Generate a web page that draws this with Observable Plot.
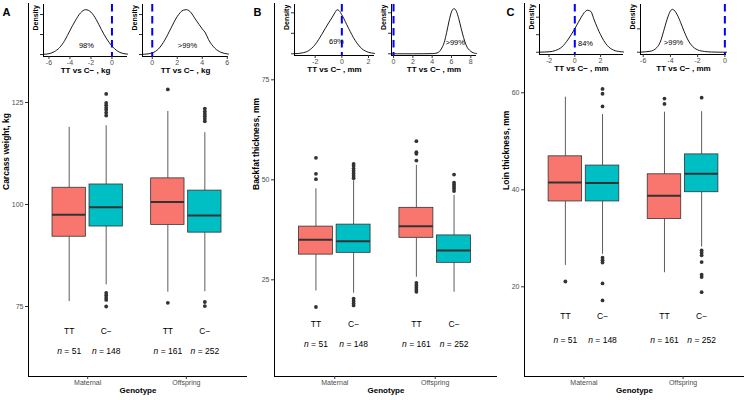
<!DOCTYPE html>
<html><head><meta charset="utf-8">
<script src="https://cdn.jsdelivr.net/npm/d3@7"></script>
<script src="https://cdn.jsdelivr.net/npm/@observablehq/plot@0.6"></script>
<style>
body{margin:0;background:#fff;}
#fig{position:relative;width:746px;height:400px;overflow:hidden;font-family:"Liberation Sans",Arial,sans-serif;}
#fig svg{position:absolute;top:0;background:transparent;overflow:visible;}
#fig svg g[aria-label="x-axis tick label"], #fig svg g[aria-label="y-axis tick label"]{fill:#4D4D4D;}
#fig svg g[aria-label="x-axis tick"], #fig svg g[aria-label="y-axis tick"]{stroke:#333;}
</style></head>
<body><div id="fig"></div>
<script>
// ---------- data ----------
const groups = ["Maternal", "Offspring"];
const genotypes = ["TT", "C\u2212"];
const sampleSizes = [51, 148, 161, 252]; // Maternal TT, Maternal C−, Offspring TT, Offspring C−

// Carcass weight (kg): order Maternal TT, Maternal C−, Offspring TT, Offspring C−
const carcassQ1 = [92.1, 94.6, 95.0, 93.1];
const carcassMedian = [97.5, 99.3, 100.6, 97.3];
const carcassQ3 = [104.1, 104.9, 106.4, 103.4];
const carcassWhiskerLow = [76.2, 80.3, 78.5, 78.6];
const carcassWhiskerHigh = [118.9, 119.3, 122.8, 117.6];
const carcassOutliers = [[], [127.1, 124.9, 124.3, 123.7, 123.2, 122.5, 121.8, 78.3, 77.7, 77.1, 76.6, 75.0], [128.2, 75.9], [123.5, 122.8, 122.2, 121.6, 121.0, 120.4, 76.1, 75.1]];
const carcassTicks = [75, 100, 125];

// Backfat thickness (mm)
const backfatQ1 = [31.3, 31.75, 35.5, 29.25];
const backfatMedian = [35.0, 34.65, 38.4, 32.3];
const backfatQ3 = [38.3, 38.8, 43.0, 36.1];
const backfatWhiskerLow = [22.2, 21.65, 25.65, 21.9];
const backfatWhiskerHigh = [47.75, 49.8, 53.6, 46.1];
const backfatOutliers = [[55.5, 51.5, 50.15, 18.2], [54.0, 53.5, 52.8, 52.2, 51.6, 51.0, 50.4, 20.3, 19.7, 19.1, 18.6], [59.65, 56.9, 56.5, 54.8, 24.2, 23.6, 23.0, 22.5, 22.0], [51.3, 49.3, 48.8, 48.3, 47.8, 47.2]];
const backfatTicks = [25, 50, 75];

// Loin thickness (mm)
const loinQ1 = [37.6, 37.6, 34.0, 39.5];
const loinMedian = [41.5, 41.4, 38.8, 43.3];
const loinQ3 = [46.9, 45.0, 43.2, 47.3];
const loinWhiskerLow = [24.4, 26.7, 22.9, 28.2];
const loinWhiskerHigh = [59.1, 55.5, 56.0, 56.1];
const loinOutliers = [[21.1], [60.8, 59.8, 57.2, 26.0, 25.5, 25.0, 20.7, 17.2], [58.8, 57.7], [59.0, 27.5, 27.0, 26.5, 25.1, 22.5, 22.0, 18.9]];
const loinTicks = [20, 40, 60];

// Posterior densities of TT − C− differences (maternal, offspring)
const carcassMatDiffX = [-6.52, -6, -5.5, -5, -4.5, -4, -3.5, -3, -2.5, -2, -1.5, -1, -0.5, 0, 0.5, 1, 1.48];
const carcassMatDiffDensity = [0.001, 0.004, 0.014, 0.034, 0.07, 0.12, 0.168, 0.208, 0.224, 0.212, 0.175, 0.124, 0.078, 0.042, 0.018, 0.006, 0.002];
const carcassOffDiffX = [-0.78, -0.5, 0, 0.5, 1, 1.5, 2, 2.5, 2.75, 3, 3.5, 4, 4.25, 4.5, 5, 5.5, 6, 6.1];
const carcassOffDiffDensity = [0.001, 0.002, 0.008, 0.028, 0.072, 0.132, 0.19, 0.222, 0.224, 0.216, 0.172, 0.128, 0.108, 0.075, 0.032, 0.011, 0.003, 0.002];
const backfatMatDiffX = [-3.55, -3, -2.5, -2, -1.5, -1, -0.75, -0.5, -0.35, -0.2, 0, 0.5, 1, 1.5, 2, 2.45];
const backfatMatDiffDensity = [0.001, 0.008, 0.03, 0.09, 0.19, 0.3, 0.35, 0.405, 0.43, 0.42, 0.38, 0.25, 0.13, 0.05, 0.015, 0.004];
const backfatOffDiffX = [-0.21, 1, 2, 3, 4, 4.5, 5, 5.25, 5.5, 5.75, 6, 6.25, 6.5, 6.75, 7, 7.25, 7.5, 8, 8.5, 8.59];
const backfatOffDiffDensity = [0, 0, 0, 0.0005, 0.002, 0.01, 0.07, 0.14, 0.26, 0.4, 0.51, 0.55, 0.52, 0.43, 0.31, 0.2, 0.11, 0.03, 0.005, 0.003];
const loinMatDiffX = [-2.74, -2, -1.5, -1, -0.5, 0, 0.25, 0.5, 0.75, 1, 1.25, 1.5, 1.75, 2, 2.5, 3, 3.5, 3.78];
const loinMatDiffDensity = [0.001, 0.005, 0.02, 0.06, 0.15, 0.27, 0.335, 0.4, 0.455, 0.48, 0.465, 0.37, 0.28, 0.2, 0.08, 0.025, 0.007, 0.003];
const loinOffDiffX = [-6.2, -5.5, -5, -4.75, -4.5, -4.25, -4, -3.85, -3.5, -3.25, -3, -2.75, -2.5, -2, -1.5, -1, -0.5, 0.12];
const loinOffDiffDensity = [0.002, 0.012, 0.06, 0.13, 0.27, 0.42, 0.53, 0.55, 0.48, 0.38, 0.27, 0.17, 0.1, 0.03, 0.01, 0.003, 0.001, 0];

const probLabels = {carcass: ["98%", ">99%"], backfat: ["69%", ">99%"], loin: ["84%", ">99%"]};

// ---------- drawing ----------
const FONT = '"Liberation Sans", Arial, Helvetica, sans-serif';
const fig = document.getElementById("fig");
const DODGE = 0.1875, HALF = 0.169;
const FILLS = ["#F8766D", "#00BFC4"];
const plain = d => String(d);

function place(svg, left) {
  svg.style.position = "absolute";
  svg.style.left = left + "px";
  svg.style.top = "0px";
  svg.style.background = "transparent";
  svg.style.overflow = "visible";
  fig.appendChild(svg);
}

function italicN(svg) {
  svg.querySelectorAll("text").forEach(t => {
    const s = t.textContent;
    if (s.startsWith("n = ")) {
      t.textContent = "";
      const ts = document.createElementNS("http://www.w3.org/2000/svg", "tspan");
      ts.setAttribute("font-style", "italic");
      ts.textContent = "n";
      t.appendChild(ts);
      t.appendChild(document.createTextNode(s.slice(1)));
    }
  });
}

function mainPlot(s) {
  const rows = [];
  groups.forEach((g, gi) => genotypes.forEach((t, ti) => {
    const k = gi * 2 + ti;
    rows.push({group: g, geno: t, xc: gi + 1 + (ti ? DODGE : -DODGE),
      q1: s.q1[k], med: s.med[k], q3: s.q3[k], lo: s.lo[k], hi: s.hi[k], n: sampleSizes[k], out: s.out[k]});
  }));
  const outl = rows.flatMap(r => r.out.map(v => ({xc: r.xc, v})));
  const svg = Plot.plot({
    width: s.w, height: 400, marginLeft: s.ml, marginRight: s.mr, marginTop: 3, marginBottom: 24,
    style: {fontFamily: FONT, fontSize: "7px", background: "transparent", overflow: "visible"},
    x: {type: "linear", domain: [0.4, 2.62]},
    y: {domain: s.yDomain},
    color: {domain: genotypes, range: FILLS},
    marks: [
      Plot.ruleX(rows, {x: "xc", y1: "lo", y2: "q1", stroke: "#333", strokeWidth: 0.8}),
      Plot.ruleX(rows, {x: "xc", y1: "q3", y2: "hi", stroke: "#333", strokeWidth: 0.8}),
      Plot.rect(rows, {x1: d => d.xc - HALF, x2: d => d.xc + HALF, y1: "q1", y2: "q3", fill: "geno", stroke: "#333", strokeWidth: 0.8}),
      Plot.ruleY(rows, {y: "med", x1: d => d.xc - HALF, x2: d => d.xc + HALF, stroke: "#333", strokeWidth: 2}),
      Plot.dot(outl, {x: "xc", y: "v", r: 1.9, fill: "#333", stroke: null}),
      Plot.text(rows, {x: "xc", y: () => s.labelY, text: "geno", fontSize: 8.5, fill: "black"}),
      Plot.text(rows, {x: "xc", y: () => s.nY, text: d => "n = " + d.n, fontSize: 8.5, fill: "black"}),
      Plot.ruleX([0.4], {stroke: "black", strokeWidth: 1}),
      Plot.ruleY([s.yDomain[0]], {stroke: "black", strokeWidth: 1}),
      Plot.axisY({ticks: s.yTicks, tickFormat: plain, tickSize: 3, tickPadding: 2, label: null, fontSize: 7}),
      Plot.axisX({ticks: [1, 2], tickFormat: d => groups[d - 1], tickSize: 3, tickPadding: 1, label: null, fontSize: 7}),
      Plot.text([s.yTitle], {frameAnchor: "left", rotate: -90, dx: s.yTitleDx, fontWeight: "bold", fontSize: 8.5, fill: "black"}),
      Plot.text(["Genotype"], {frameAnchor: "bottom", dy: 16, fontWeight: "bold", fontSize: 8, fill: "black"}),
      Plot.text([s.letter], {frameAnchor: "top-left", dx: s.letterDx, dy: 5, textAnchor: "start", fontWeight: "bold", fontSize: 11, fill: "black"})
    ]
  });
  italicN(svg);
  place(svg, s.left);
}

function insetPlot(d) {
  const pts = d.x.map((x, i) => ({x, y: d.y[i]}));
  const H = 80;
  const svg = Plot.plot({
    width: d.fx1 - d.fx0 + 18, height: H, marginLeft: 14, marginRight: 4, marginTop: d.fy0, marginBottom: H - d.fy1,
    style: {fontFamily: FONT, fontSize: "7px", background: "transparent", overflow: "visible"},
    x: {domain: d.xDomain},
    y: {domain: d.yDomain},
    marks: [
      Plot.lineY(pts, {x: "x", y: "y", stroke: "black", strokeWidth: 0.9, curve: "monotone-x"}),
      Plot.ruleX([0], {stroke: "#0000FF", strokeWidth: 2, strokeDasharray: "7.5,4.5"}),
      Plot.text([d.prob], {x: () => d.probX, y: () => d.probY, fontSize: 7.5, fill: "black"}),
      Plot.ruleX([d.xDomain[0]], {stroke: "black", strokeWidth: 1}),
      Plot.ruleY([d.yDomain[0]], {stroke: "black", strokeWidth: 1}),
      Plot.axisX({ticks: d.xTicks, tickFormat: plain, tickSize: 3, tickPadding: 1, label: null, fontSize: 7}),
      Plot.axisY({ticks: d.yTicks, tickSize: 3, tickFormat: () => "", label: null}),
      Plot.text([d.title], {frameAnchor: "bottom", dy: 16, fontWeight: "bold", fontSize: 8, fill: "black"}),
      Plot.text(["Density"], {frameAnchor: "left", rotate: -90, dx: -8, fontWeight: "bold", fontSize: 7, fill: "black"})
    ]
  });
  place(svg, d.fx0 - 14);
}

// main panels
mainPlot({left: 0, w: 250, ml: 28, mr: 3, yDomain: [57.84, 149.26], yTicks: carcassTicks,
  q1: carcassQ1, med: carcassMedian, q3: carcassQ3, lo: carcassWhiskerLow, hi: carcassWhiskerHigh, out: carcassOutliers,
  labelY: 69, nY: 64, yTitle: "Carcass weight, kg", yTitleDx: -22, letter: "A", letterDx: -26});
mainPlot({left: 249, w: 250, ml: 25, mr: 2, yDomain: [0.83, 94.08], yTicks: backfatTicks,
  q1: backfatQ1, med: backfatMedian, q3: backfatQ3, lo: backfatWhiskerLow, hi: backfatWhiskerHigh, out: backfatOutliers,
  labelY: 14, nY: 9, yTitle: "Backfat thickness, mm", yTitleDx: -18, letter: "B", letterDx: -21});
mainPlot({left: 498, w: 248, ml: 26, mr: 2, yDomain: [1.51, 78.41], yTicks: loinTicks,
  q1: loinQ1, med: loinMedian, q3: loinQ3, lo: loinWhiskerLow, hi: loinWhiskerHigh, out: loinOutliers,
  labelY: 14, nY: 9, yTitle: "Loin thickness, mm", yTitleDx: -18, letter: "C", letterDx: -18});

// insets
const kg = "TT vs C\u2212 , kg", mm = "TT vs C\u2212 , mm";
insetPlot({fx0: 43, fx1: 127, fy0: 4, fy1: 56, xDomain: [-6.52, 1.48], yDomain: [-0.01, 0.25], xTicks: [-6, -4, -2, 0], yTicks: [0, 0.1, 0.2],
  x: carcassMatDiffX, y: carcassMatDiffDensity, prob: probLabels.carcass[0], probX: -2.43, probY: 0.045, title: kg});
insetPlot({fx0: 142, fx1: 228, fy0: 4, fy1: 56, xDomain: [-0.78, 6.1], yDomain: [-0.01, 0.25], xTicks: [0, 2, 4, 6], yTicks: [0, 0.1, 0.2],
  x: carcassOffDiffX, y: carcassOffDiffDensity, prob: probLabels.carcass[1], probX: 2.82, probY: 0.045, title: kg});
insetPlot({fx0: 294, fx1: 374, fy0: 4, fy1: 55, xDomain: [-3.55, 2.45], yDomain: [-0.0166, 0.481], xTicks: [-2, 0, 2], yTicks: [0, 0.2, 0.4],
  x: backfatMatDiffX, y: backfatMatDiffDensity, prob: probLabels.backfat[0], probX: -0.4, probY: 0.123, title: mm});
insetPlot({fx0: 391, fx1: 476, fy0: 4, fy1: 55, xDomain: [-0.21, 8.59], yDomain: [-0.0207, 0.601], xTicks: [0, 2, 4, 6, 8], yTicks: [0, 0.25, 0.5],
  x: backfatOffDiffX, y: backfatOffDiffDensity, prob: probLabels.backfat[1], probX: 6.39, probY: 0.138, title: mm});
insetPlot({fx0: 539, fx1: 623, fy0: 4, fy1: 54, xDomain: [-2.74, 3.78], yDomain: [-0.026, 0.545], xTicks: [-2, 0, 2], yTicks: [0, 0.2, 0.4],
  x: loinMatDiffX, y: loinMatDiffDensity, prob: probLabels.loin[0], probX: 0.83, probY: 0.102, title: mm});
insetPlot({fx0: 640, fx1: 726, fy0: 4, fy1: 54, xDomain: [-6.2, 0.12], yDomain: [-0.029, 0.612], xTicks: [-6, -4, -2, 0], yTicks: [0, 0.3],
  x: loinOffDiffX, y: loinOffDiffDensity, prob: probLabels.loin[1], probX: -3.77, probY: 0.124, title: mm});
</script>
</body></html>
